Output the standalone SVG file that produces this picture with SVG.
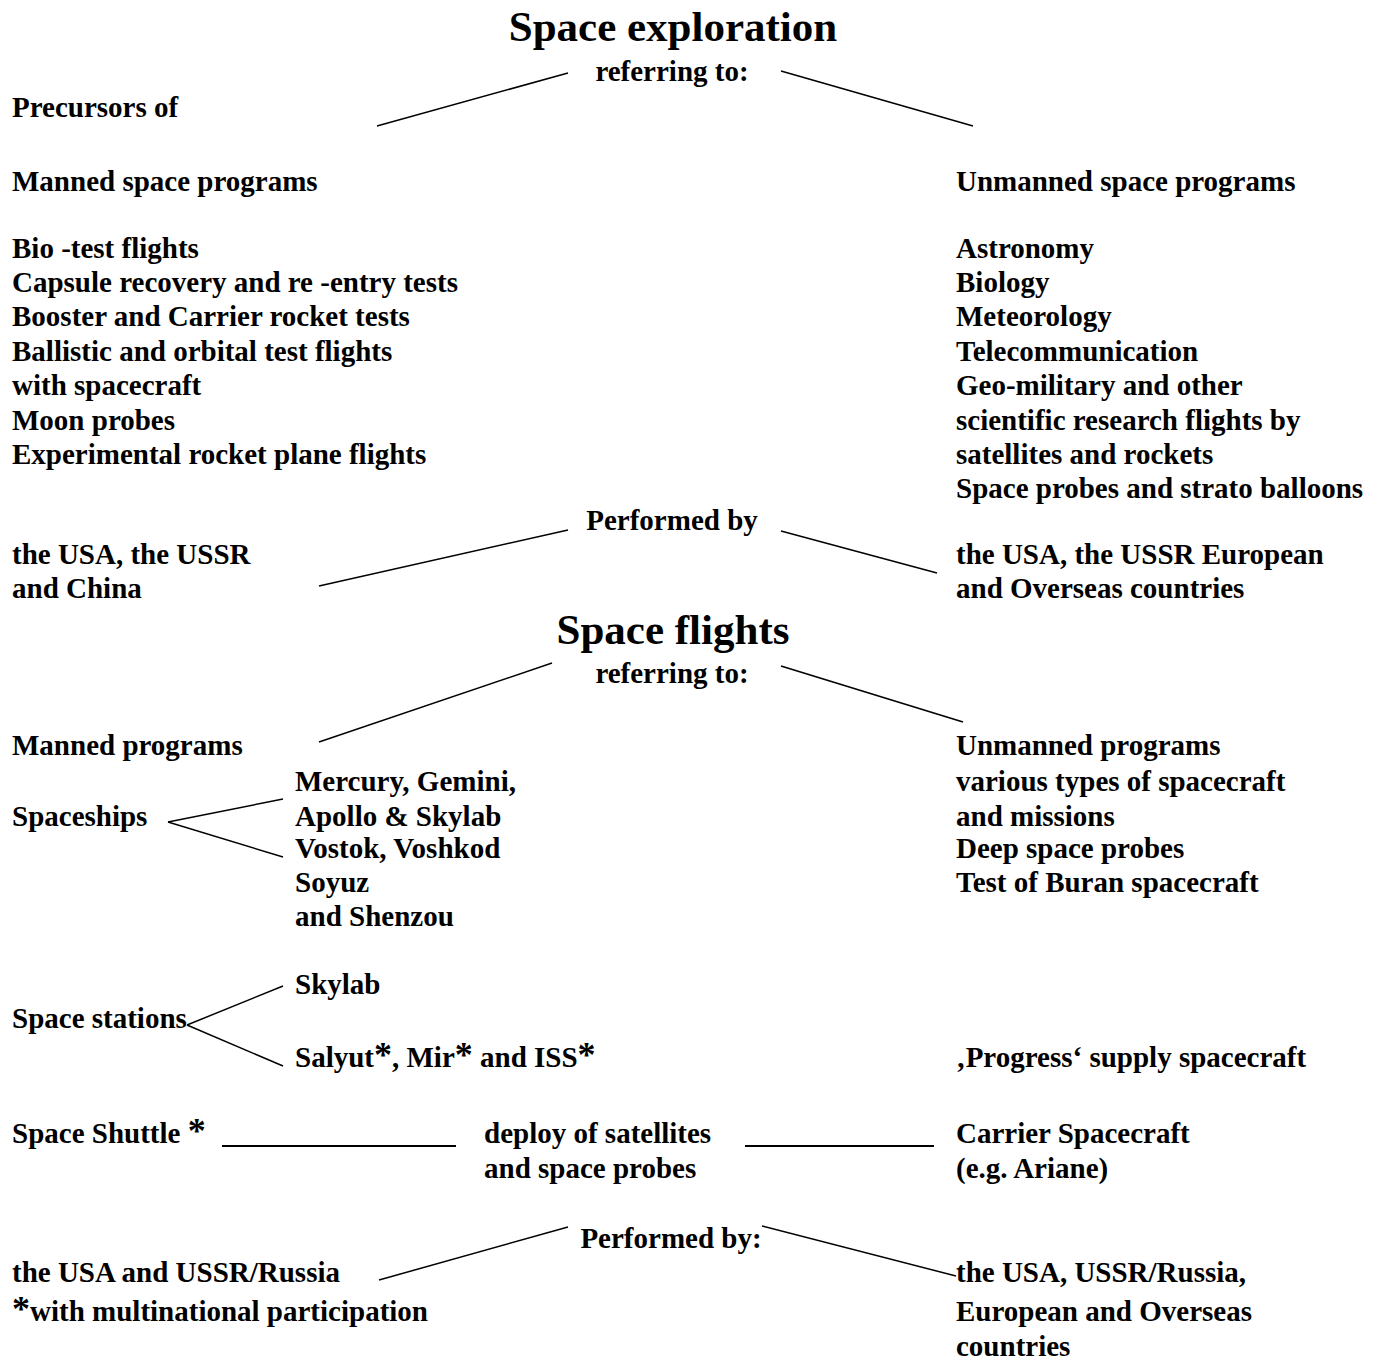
<svg xmlns="http://www.w3.org/2000/svg" width="1381" height="1360" viewBox="0 0 1381 1360">
<style>
text{font-family:"Liberation Serif","Times New Roman",serif;font-weight:bold;font-size:29px;fill:#000}
.t{font-size:43px}
.c{text-anchor:middle}
.a{font-size:36px}
line{stroke:#000;stroke-width:1.5}
.u{stroke-width:2}
</style>
<rect width="1381" height="1360" fill="#fff"/>
<g id="connectors">
<line x1="377" y1="126" x2="568" y2="73"/>
<line x1="781" y1="71" x2="973" y2="126"/>
<line x1="319" y1="586" x2="568" y2="530"/>
<line x1="781" y1="531" x2="937" y2="573"/>
<line x1="319" y1="742" x2="552" y2="663"/>
<line x1="781" y1="666" x2="963" y2="722"/>
<line x1="168" y1="822" x2="283" y2="799"/>
<line x1="168" y1="822" x2="283" y2="857"/>
<line x1="187" y1="1025" x2="283" y2="986"/>
<line x1="187" y1="1025" x2="283" y2="1066"/>
<line class="u" x1="222" y1="1146" x2="456" y2="1146"/>
<line class="u" x1="745" y1="1146" x2="934" y2="1146"/>
<line x1="379" y1="1280" x2="568" y2="1227"/>
<line x1="762" y1="1226" x2="956" y2="1276"/>
</g>
<g id="title1"><text class="t c" x="673" y="41">Space exploration</text></g>
<g id="ref1"><text class="c" x="672" y="81">referring to:</text></g>
<g id="precursors"><text x="12" y="117">Precursors of</text></g>
<g id="manned1"><text x="12" y="191">Manned space programs</text></g>
<g id="unmanned1"><text x="956" y="191">Unmanned space programs</text></g>
<g id="mannedlist">
<text x="12" y="258">Bio -test flights</text>
<text x="12" y="292">Capsule recovery and re -entry tests</text>
<text x="12" y="326">Booster and Carrier rocket tests</text>
<text x="12" y="361">Ballistic and orbital test flights</text>
<text x="12" y="395">with spacecraft</text>
<text x="12" y="430">Moon probes</text>
<text x="12" y="464">Experimental rocket plane flights</text>
</g>
<g id="unmannedlist">
<text x="956" y="258">Astronomy</text>
<text x="956" y="292">Biology</text>
<text x="956" y="326">Meteorology</text>
<text x="956" y="361">Telecommunication</text>
<text x="956" y="395">Geo-military and other</text>
<text x="956" y="430">scientific research flights by</text>
<text x="956" y="464">satellites and rockets</text>
<text x="956" y="498">Space probes and strato balloons</text>
</g>
<g id="perf1"><text class="c" x="672" y="530">Performed by</text></g>
<g id="usa1">
<text x="12" y="564">the USA, the USSR</text>
<text x="12" y="598">and China</text>
</g>
<g id="usa2">
<text x="956" y="564">the USA, the USSR European</text>
<text x="956" y="598">and Overseas countries</text>
</g>
<g id="title2"><text class="t c" x="673" y="644">Space flights</text></g>
<g id="ref2"><text class="c" x="672" y="683">referring to:</text></g>
<g id="manned2"><text x="12" y="755">Manned programs</text></g>
<g id="unmanned2">
<text x="956" y="755">Unmanned programs</text>
<text x="956" y="791">various types of spacecraft</text>
<text x="956" y="826">and missions</text>
<text x="956" y="858">Deep space probes</text>
<text x="956" y="892">Test of Buran spacecraft</text>
</g>
<g id="spaceships"><text x="12" y="826">Spaceships</text></g>
<g id="shiplist">
<text x="295" y="791">Mercury, Gemini,</text>
<text x="295" y="826">Apollo &amp; Skylab</text>
<text x="295" y="858">Vostok, Voshkod</text>
<text x="295" y="892">Soyuz</text>
<text x="295" y="926">and Shenzou</text>
</g>
<g id="stations"><text x="12" y="1028">Space stations</text></g>
<g id="skylab"><text x="295" y="994">Skylab</text></g>
<g id="salyut"><text x="295" y="1067">Salyut<tspan class="a">*</tspan>, Mir<tspan class="a">*</tspan> and ISS<tspan class="a">*</tspan></text></g>
<g id="progress"><text x="956" y="1067">‚Progress‘ supply spacecraft</text></g>
<g id="shuttle"><text x="12" y="1143">Space Shuttle <tspan class="a">*</tspan></text></g>
<g id="deploy">
<text x="484" y="1143">deploy of satellites</text>
<text x="484" y="1178">and space probes</text>
</g>
<g id="carrier">
<text x="956" y="1143">Carrier Spacecraft</text>
<text x="956" y="1178">(e.g. Ariane)</text>
</g>
<g id="perf2"><text class="c" x="671" y="1248">Performed by:</text></g>
<g id="usa3">
<text x="12" y="1282">the USA and USSR/Russia</text>
<text x="12" y="1321"><tspan class="a">*</tspan>with multinational participation</text>
</g>
<g id="usa4">
<text x="956" y="1282">the USA, USSR/Russia,</text>
<text x="956" y="1321">European and Overseas</text>
<text x="956" y="1356">countries</text>
</g>
</svg>
